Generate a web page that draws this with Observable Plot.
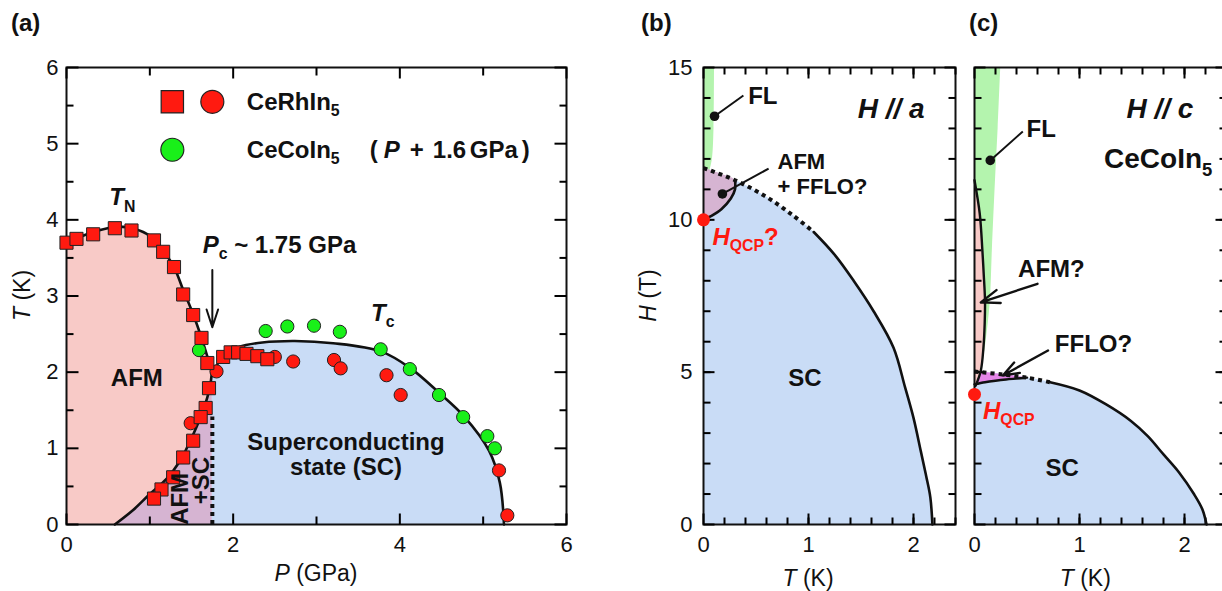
<!DOCTYPE html>
<html>
<head>
<meta charset="utf-8">
<script src="https://cdn.jsdelivr.net/npm/d3@7"></script>
<script src="https://cdn.jsdelivr.net/npm/@observablehq/plot@0.6"></script>
<style>
  body { margin: 0; background: #fff; }
  #fig { position: relative; width: 1222px; height: 591px; overflow: hidden; background: #fff; }
  #fig svg { position: absolute; top: 0; overflow: visible; }
  #fig text { white-space: pre; }
</style>
</head>
<body>
<div id="fig"></div>
<script>
const fontFamily = '"Liberation Sans", Arial, Helvetica, sans-serif';
const ink = "#111";
const pink = "#f8cac7", purple = "#d6b4d2", blue = "#c9dcf6", lightGreen = "#b4f4ae", magenta = "#e586e8";
const red = "#ff1a10", green = "#19f019";
const curve = "catmull-rom";

// ---------- (a) P–T phase diagram of CeRhIn5 (CeCoIn5 shifted by +1.6 GPa) ----------
const rhSquareP = [0, 0.12, 0.32, 0.58, 0.78, 1.05, 1.16, 1.29, 1.40, 1.52, 1.62, 1.69,
                   1.88, 1.97, 2.06, 2.16, 2.29, 2.41,
                   1.71, 1.67, 1.61, 1.52, 1.40, 1.28, 1.14, 1.05];
const rhSquareT = [3.70, 3.75, 3.81, 3.89, 3.86, 3.73, 3.58, 3.38, 3.02, 2.75, 2.45, 2.12,
                   2.20, 2.26, 2.26, 2.24, 2.21, 2.17,
                   1.79, 1.53, 1.41, 1.10, 0.88, 0.62, 0.46, 0.34];
const rhCircleP = [1.49, 1.80, 2.50, 2.72, 3.21, 3.29, 3.84, 4.01, 5.19, 5.29];
const rhCircleT = [1.33, 2.01, 2.20, 2.14, 2.16, 2.05, 1.96, 1.70, 0.71, 0.12];
const coCircleP = [1.59, 2.39, 2.65, 2.97, 3.28, 3.77, 4.12, 4.47, 4.76, 5.05, 5.14];
const coCircleT = [2.29, 2.54, 2.60, 2.61, 2.53, 2.30, 2.04, 1.70, 1.41, 1.16, 1.00];

// Néel line T_N(P) and the inner AFM / AFM+SC boundary
const tnP = [0, 0.15, 0.35, 0.6, 0.82, 1.0, 1.15, 1.29, 1.40, 1.52, 1.62, 1.70, 1.745];
const tnT = [3.70, 3.77, 3.85, 3.91, 3.88, 3.79, 3.61, 3.38, 3.08, 2.76, 2.45, 2.17, 2.0];
const afmScP = [1.745, 1.725, 1.69, 1.63, 1.56, 1.46, 1.36, 1.2, 1.0, 0.8, 0.58];
const afmScT = [2.0, 1.83, 1.67, 1.47, 1.28, 1.04, 0.83, 0.6, 0.4, 0.19, 0];
// Superconducting dome T_c(P)
const domeP = [1.75, 1.79, 1.9, 2.07, 2.35, 2.74, 3.2, 3.78, 4.13, 4.47, 4.77, 5.07, 5.2, 5.25];
const domeT = [1.95, 2.07, 2.22, 2.33, 2.39, 2.41, 2.38, 2.27, 2.05, 1.73, 1.42, 0.97, 0.55, 0];
const Pc = 1.75;
const pcDotted = { P: Pc, T1: 0, T2: 1.41 };
const pcArrow = { P: Pc, T1: 3.34, T2: 2.59 };
const aTicksP = [0, 2, 4, 6];
const aTicksT = [0, 1, 2, 3, 4, 5, 6];

// ---------- (b) H // a ----------
const hc2aT = [0, 0.3, 0.6, 0.85, 1.05, 1.25, 1.43, 1.62, 1.81, 1.92, 2.0, 2.07, 2.12, 2.16, 2.18];
const hc2aH = [11.7, 11.3, 10.75, 10.15, 9.6, 8.85, 8.0, 7.0, 5.8, 4.5, 3.5, 2.4, 1.6, 0.9, 0];
const hc2aDashedUpTo = 1.05;
const afmFfloH = [10.0, 10.12, 10.35, 10.7, 11.0, 11.3, 11.5, 11.7];
const afmFfloT = [0.0, 0.07, 0.17, 0.26, 0.3, 0.3, 0.17, 0];
const flaH = [11.6, 12.0, 13.0, 15.0];
const flaT = [0.06, 0.085, 0.1, 0.105];
const hqcpA = 10.0;
const bTicksT = [0, 1, 2];
const bTicksH = [0, 5, 10, 15];

// ---------- (c) H // c, CeCoIn5 ----------
const hc2cT = [0, 0.25, 0.5, 0.72, 1.0, 1.25, 1.49, 1.65, 1.8, 1.95, 2.09, 2.17, 2.21];
const hc2cH = [5.02, 4.93, 4.82, 4.67, 4.4, 3.95, 3.4, 2.9, 2.3, 1.7, 1.0, 0.5, 0];
const hc2cDashedUpTo = 0.72;
const ffloT = [0, 0.1, 0.2, 0.3, 0.4, 0.5];
const ffloLow = [4.6, 4.67, 4.72, 4.76, 4.79, 4.82];
const ffloHigh = [5.02, 4.99, 4.95, 4.91, 4.87, 4.82];
const afmcH = [4.55, 5.05, 5.8, 6.6, 7.35, 8.2, 9.0, 10.2, 11.3];
const afmcT = [0.01, 0.06, 0.085, 0.097, 0.1, 0.088, 0.075, 0.05, 0];
const flcH = [5.05, 6.0, 7.3, 9.0, 11.3, 13, 15];
const flcT = [0.07, 0.11, 0.15, 0.17, 0.2, 0.225, 0.25];
const hqcpC = 4.27;

const rows = (xs, ys, kx, ky) => xs.map((v, i) => ({ [kx]: v, [ky]: ys[i] }));

// rich text with italic parts and subscripts, appended to a plot's svg
function addText(svg, x, y, parts, o = {}) {
  const size = o.size ?? 24;
  const t = d3.select(svg).append("text")
    .attr("x", x).attr("y", y)
    .attr("text-anchor", o.anchor ?? "start")
    .attr("dominant-baseline", "central")
    .attr("font-family", fontFamily)
    .attr("font-size", size)
    .attr("font-weight", o.weight ?? "bold")
    .attr("fill", o.fill ?? ink);
  if (o.italic) t.attr("font-style", "italic");
  if (o.rotate) t.attr("transform", `rotate(${o.rotate} ${x} ${y})`);
  let shift = 0;
  for (const p of (typeof parts === "string" ? [parts] : parts)) {
    const seg = typeof p === "string" ? { t: p } : p;
    const ts = t.append("tspan").text(seg.t);
    if (seg.at !== undefined) ts.attr("x", x + seg.at);
    const target = seg.sub ? size * 0.38 : 0;
    if (target !== shift) { ts.attr("dy", target - shift); shift = target; }
    if (seg.sub) ts.attr("font-size", size * 0.66).attr("font-style", "normal");
    if (seg.i) ts.attr("font-style", "italic");
    if (seg.n) ts.attr("font-style", "normal");
  }
  return t;
}

// inward frame ticks as short link segments (lengths given in pixels)
function frameTickMarks({ xs, ys, xDom, yDom, innerW, innerH }) {
  const ky = (yDom[1] - yDom[0]) / innerH, kx = (xDom[1] - xDom[0]) / innerW;
  const segs = [];
  for (const { v, len } of xs) for (const t of v) {
    segs.push({ x1: t, x2: t, y1: yDom[1], y2: yDom[1] - len * ky });
    segs.push({ x1: t, x2: t, y1: yDom[0], y2: yDom[0] + len * ky });
  }
  for (const { v, len } of ys) for (const t of v) {
    segs.push({ y1: t, y2: t, x1: xDom[0], x2: xDom[0] + len * kx });
    segs.push({ y1: t, y2: t, x1: xDom[1], x2: xDom[1] - len * kx });
  }
  return Plot.link(segs, { x1: "x1", x2: "x2", y1: "y1", y2: "y2", stroke: "#000", strokeWidth: 2, strokeLinecap: "butt" });
}

const style = { fontFamily, fontSize: "22px", color: ink, overflow: "visible" };
const fmt = d3.format("d");
const fig = document.getElementById("fig");
const H = 591, mT = 67, mB = 67, innerH = H - mT - mB;
const dashed = { strokeWidth: 4, strokeDasharray: "4,4", strokeLinecap: "butt", strokeLinejoin: "miter" };

// ================= panel (a) =================
{
  const W = 600, mL = 66, mR = 34, innerW = W - mL - mR;
  const xDom = [0, 6], yDom = [0, 6];
  const tnRows = rows(tnP, tnT, "P", "T");
  const afmScRows = rows(afmScP, afmScT, "P", "T");
  const domeRows = rows(domeP, domeT, "P", "T");
  const sq = rows(rhSquareP, rhSquareT, "P", "T");
  const rc = rows(rhCircleP, rhCircleT, "P", "T");
  const gc = rows(coCircleP, coCircleT, "P", "T");
  const plot = Plot.plot({
    width: W, height: H, marginLeft: mL, marginRight: mR, marginTop: mT, marginBottom: mB,
    x: { domain: xDom, label: null }, y: { domain: yDom, label: null }, style,
    marks: [
      Plot.areaY(tnRows, { x: "P", y: "T", fill: pink, curve }),
      Plot.areaX(afmScRows, { y: "T", x1: "P", x2: () => Pc, fill: purple, curve }),
      Plot.areaY(domeRows, { x: "P", y: "T", fill: blue, curve }),
      Plot.ruleX([pcDotted], { x: "P", y1: "T1", y2: "T2", stroke: ink, ...dashed }),
      Plot.line([...tnRows, ...afmScRows], { x: "P", y: "T", stroke: ink, strokeWidth: 2.6, curve }),
      Plot.line(domeRows, { x: "P", y: "T", stroke: ink, strokeWidth: 2.6, curve }),
      Plot.arrow([pcArrow], { x1: "P", x2: "P", y1: "T1", y2: "T2", stroke: ink, strokeWidth: 2, headLength: 14, headAngle: 36 }),
      Plot.frame({ stroke: ink, strokeWidth: 2 }),
      frameTickMarks({
        xs: [{ v: [1, 3, 5], len: 8 }, { v: aTicksP, len: 11 }],
        ys: [{ v: [0.5, 1.5, 2.5, 3.5, 4.5, 5.5], len: 7 }, { v: aTicksT, len: 12 }],
        xDom, yDom, innerW, innerH
      }),
      Plot.dot(gc, { x: "P", y: "T", r: 6.6, fill: green, stroke: "#222", strokeWidth: 1 }),
      Plot.dot(rc, { x: "P", y: "T", r: 6.6, fill: red, stroke: "#222", strokeWidth: 1 }),
      Plot.dot(sq, { x: "P", y: "T", r: 7.4, symbol: "square", fill: red, stroke: "#222", strokeWidth: 1 }),
      // legend keys
      Plot.dot([{ P: 1.27, T: 5.55 }], { x: "P", y: "T", r: 12.6, symbol: "square", fill: red, stroke: "#222", strokeWidth: 1.2 }),
      Plot.dot([{ P: 1.75, T: 5.55 }], { x: "P", y: "T", r: 11.5, fill: red, stroke: "#222", strokeWidth: 1.2 }),
      Plot.dot([{ P: 1.27, T: 4.92 }], { x: "P", y: "T", r: 11.5, fill: green, stroke: "#222", strokeWidth: 1.2 }),
      Plot.axisX({ ticks: aTicksP, tickSize: 0, tickPadding: 12, tickFormat: fmt, label: null }),
      Plot.axisY({ ticks: aTicksT, tickSize: 0, tickPadding: 8, tickFormat: fmt, label: null })
    ]
  });
  plot.style.left = "0px";
  fig.appendChild(plot);
  const X = v => plot.scale("x").apply(v), Y = v => plot.scale("y").apply(v);
  addText(plot, 11, 22, "(a)");
  addText(plot, X(2.17), Y(5.55), ["CeRhIn", { t: "5", sub: true }]);
  addText(plot, X(2.17), Y(4.92), ["CeCoIn", { t: "5", sub: true },
    { t: "(", at: 123 }, { t: "P", i: true, at: 137 }, { t: "+", at: 163 },
    { t: "1.6", at: 186 }, { t: "GPa", at: 223 }, { t: ")", at: 275 }]);
  addText(plot, X(0.52), Y(4.3), [{ t: "T", i: true }, { t: "N", sub: true }]);
  addText(plot, X(1.64), Y(3.68), [{ t: "P", i: true }, { t: "c", sub: true }, " ~ 1.75 GPa"]);
  addText(plot, X(3.66), Y(2.78), [{ t: "T", i: true }, { t: "c", sub: true }]);
  addText(plot, X(0.85), Y(1.93), "AFM", { anchor: "middle" });
  addText(plot, X(1.36), Y(0.33), "AFM", { anchor: "middle", rotate: -90 });
  addText(plot, X(1.61), Y(0.57), "+SC", { anchor: "middle", rotate: -90 });
  addText(plot, X(3.36), Y(1.09), "Superconducting", { anchor: "middle" });
  addText(plot, X(3.36), Y(0.76), "state (SC)", { anchor: "middle" });
  addText(plot, X(3), Y(0) + 49, [{ t: "P", i: true }, " (GPa)"], { anchor: "middle", weight: "normal", size: 23 });
  addText(plot, 22, Y(3), [{ t: "T", i: true }, " (K)"], { anchor: "middle", weight: "normal", size: 23, rotate: -90 });
}

// ================= panel (b) =================
{
  const left = 600, W = 370, mL = 103, mR = 15, innerW = W - mL - mR;
  const xDom = [0, 2.4], yDom = [0, 15];
  const hc2 = rows(hc2aT, hc2aH, "T", "H");
  const purpleRows = rows(afmFfloT, afmFfloH, "T", "H");
  const flRows = rows(flaT, flaH, "T", "H");
  const flDot = { T: 0.105, H: 13.4, T2: 0.38, H2: 14.08 };
  const afDot = { T: 0.18, H: 10.85, T2: 0.62, H2: 11.68 };
  const plot = Plot.plot({
    width: W, height: H, marginLeft: mL, marginRight: mR, marginTop: mT, marginBottom: mB,
    x: { domain: xDom, label: null }, y: { domain: yDom, label: null }, style,
    marks: [
      Plot.areaY(hc2, { x: "T", y: "H", fill: blue, curve }),
      Plot.areaX(flRows, { y: "H", x: "T", fill: lightGreen, curve }),
      Plot.areaX(purpleRows, { y: "H", x: "T", fill: purple, curve }),
      Plot.frame({ stroke: ink, strokeWidth: 2 }),
      frameTickMarks({
        xs: [{ v: d3.range(0.2, 2.41, 0.2), len: 7 }, { v: bTicksT, len: 11 }],
        ys: [{ v: d3.range(1, 15, 1), len: 7 }, { v: bTicksH, len: 11 }],
        xDom, yDom, innerW, innerH
      }),
      Plot.line(hc2, { filter: d => d.T <= hc2aDashedUpTo, x: "T", y: "H", stroke: ink, ...dashed, curve }),
      Plot.line(hc2, { filter: d => d.T >= hc2aDashedUpTo, x: "T", y: "H", stroke: ink, strokeWidth: 2.6, curve }),
      Plot.line(purpleRows, { filter: d => d.H <= 11.3, x: "T", y: "H", stroke: ink, strokeWidth: 2.6, curve }),
      Plot.link([flDot, afDot], { x1: "T", y1: "H", x2: "T2", y2: "H2", stroke: ink, strokeWidth: 2 }),
      Plot.dot([flDot, afDot], { x: "T", y: "H", r: 4.8, fill: ink }),
      Plot.dot([{ T: 0, H: hqcpA }], { x: "T", y: "H", r: 6.5, fill: red }),
      Plot.axisX({ ticks: bTicksT, tickSize: 0, tickPadding: 12, tickFormat: fmt, label: null }),
      Plot.axisY({ ticks: bTicksH, tickSize: 0, tickPadding: 11, tickFormat: fmt, label: null })
    ]
  });
  plot.style.left = left + "px";
  fig.appendChild(plot);
  const X = v => plot.scale("x").apply(v), Y = v => plot.scale("y").apply(v);
  addText(plot, 41, 22, "(b)");
  addText(plot, X(0.43), Y(14.08), "FL");
  addText(plot, X(2.11), Y(13.65), "H // a", { anchor: "end", size: 28, italic: true });
  addText(plot, X(0.71), Y(11.9), "AFM", { size: 22 });
  addText(plot, X(0.71), Y(11.1), "+ FFLO?", { size: 22 });
  addText(plot, X(0.09), Y(9.45), [{ t: "H", i: true }, { t: "QCP", sub: true }, { t: "?", n: true }], { fill: red, size: 24 });
  addText(plot, X(0.97), Y(4.82), "SC", { anchor: "middle" });
  addText(plot, X(1.0), Y(0) + 54, [{ t: "T", i: true }, " (K)"], { anchor: "middle", weight: "normal", size: 23 });
  addText(plot, 48, Y(7.5), [{ t: "H", i: true }, " (T)"], { anchor: "middle", weight: "normal", size: 23, rotate: -90 });
}

// ================= panel (c) =================
{
  const left = 960, W = 270, mL = 14, mR = 4, innerW = W - mL - mR;
  const xDom = [0, 2.4], yDom = [0, 15];
  const hc2 = rows(hc2cT, hc2cH, "T", "H");
  const fflo = ffloT.map((T, i) => ({ T, lo: ffloLow[i], hi: ffloHigh[i] }));
  const afmRows = rows(afmcT, afmcH, "T", "H");
  const flRows = rows(flcT, flcH, "T", "H");
  const flDot = { T: 0.15, H: 11.95, T2: 0.46, H2: 12.9 };
  const arrows = [
    { T1: 0.6, H1: 7.9, T2: 0.06, H2: 7.29 },
    { T1: 0.7, H1: 5.71, T2: 0.27, H2: 4.89 }
  ];
  const plot = Plot.plot({
    width: W, height: H, marginLeft: mL, marginRight: mR, marginTop: mT, marginBottom: mB,
    x: { domain: xDom, label: null }, y: { domain: yDom, axis: null }, style,
    marks: [
      Plot.areaY(hc2, { x: "T", y: "H", fill: blue, curve }),
      Plot.areaY(fflo, { x: "T", y1: "lo", y2: "hi", fill: magenta, curve }),
      Plot.areaX(flRows, { y: "H", x: "T", fill: lightGreen, curve }),
      Plot.areaX(afmRows, { y: "H", x: "T", fill: pink, curve }),
      Plot.frame({ stroke: ink, strokeWidth: 2 }),
      frameTickMarks({
        xs: [{ v: d3.range(0.2, 2.41, 0.2), len: 7 }, { v: bTicksT, len: 11 }],
        ys: [{ v: d3.range(1, 15, 1), len: 7 }, { v: bTicksH, len: 11 }],
        xDom, yDom, innerW, innerH
      }),
      Plot.line(hc2, { filter: d => d.T <= hc2cDashedUpTo, x: "T", y: "H", stroke: ink, ...dashed, curve }),
      Plot.line(hc2, { filter: d => d.T >= hc2cDashedUpTo, x: "T", y: "H", stroke: ink, strokeWidth: 2.6, curve }),
      Plot.line(fflo, { x: "T", y: "lo", stroke: ink, strokeWidth: 2.4, curve }),
      Plot.line(afmRows, { x: "T", y: "H", stroke: ink, strokeWidth: 2.4, curve }),
      Plot.link([flDot], { x1: "T", y1: "H", x2: "T2", y2: "H2", stroke: ink, strokeWidth: 2 }),
      Plot.dot([flDot], { x: "T", y: "H", r: 4.8, fill: ink }),
      Plot.arrow(arrows, { x1: "T1", y1: "H1", x2: "T2", y2: "H2", stroke: ink, strokeWidth: 2.4, headLength: 13, headAngle: 40 }),
      Plot.dot([{ T: 0, H: hqcpC }], { x: "T", y: "H", r: 6.5, fill: red }),
      Plot.axisX({ ticks: bTicksT, tickSize: 0, tickPadding: 12, tickFormat: fmt, label: null })
    ]
  });
  plot.style.left = left + "px";
  fig.appendChild(plot);
  const X = v => plot.scale("x").apply(v), Y = v => plot.scale("y").apply(v);
  addText(plot, 9, 22, "(c)");
  addText(plot, X(0.5), Y(13.0), "FL");
  addText(plot, X(2.09), Y(13.65), "H // c", { anchor: "end", size: 28, italic: true });
  addText(plot, X(2.27), Y(12.0), ["CeCoIn", { t: "5", sub: true }], { anchor: "end", size: 28 });
  addText(plot, X(0.42), Y(8.4), "AFM?");
  addText(plot, X(0.77), Y(5.94), "FFLO?");
  addText(plot, X(0.086), Y(3.74), [{ t: "H", i: true }, { t: "QCP", sub: true }], { fill: red, size: 24 });
  addText(plot, X(0.84), Y(1.87), "SC", { anchor: "middle" });
  addText(plot, X(1.06), Y(0) + 54, [{ t: "T", i: true }, " (K)"], { anchor: "middle", weight: "normal", size: 23 });
}
</script>
</body>
</html>
